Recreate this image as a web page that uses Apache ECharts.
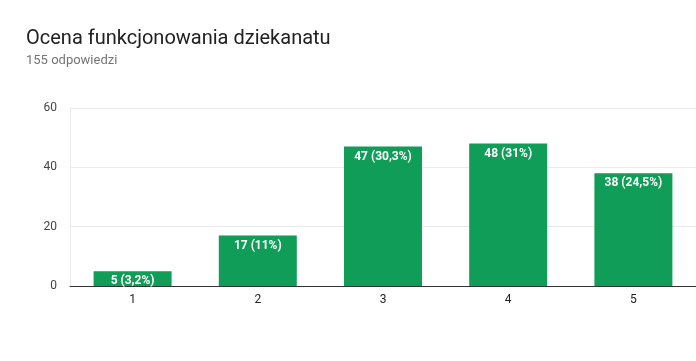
<!DOCTYPE html>
<html>
<head>
<meta charset="utf-8">
<script src="https://cdn.jsdelivr.net/npm/echarts@6/dist/echarts.min.js"></script>
<style>html,body{margin:0;padding:0;background:#fff}#c{width:696px;height:361px}</style>
</head>
<body>
<div id="c"></div>
<script>
const titleText = 'Ocena funkcjonowania dziekanatu';
const subtitleText = '155 odpowiedzi';
const total = 155;
const categories = ['1', '2', '3', '4', '5'];
const values = [5, 17, 47, 48, 38];
const yTicks = [0, 20, 40, 60];

function pct(v) {
  let p = Math.round(v / total * 1000) / 10;
  let s = (p % 1 === 0) ? String(p) : p.toFixed(1);
  return s.replace('.', ',') + '%';
}

const chart = echarts.init(document.getElementById('c'));
chart.setOption({
  animation: false,
  title: {
    text: titleText,
    subtext: subtitleText,
    left: 21,
    top: 24,
    itemGap: 5,
    textStyle: { fontFamily: 'Roboto', fontSize: 20, fontWeight: 'normal', color: '#212121' },
    subtextStyle: { fontFamily: 'Roboto', fontSize: 13, color: '#757575' }
  },
  grid: { left: 70, right: 0, top: 108, bottom: 75, containLabel: false },
  xAxis: {
    type: 'category',
    data: categories,
    axisLine: { lineStyle: { color: '#333333', width: 1 } },
    axisTick: { show: false },
    axisLabel: { fontFamily: 'Roboto', fontSize: 12, color: '#222222', margin: 8 }
  },
  yAxis: {
    type: 'value',
    min: yTicks[0],
    max: yTicks[yTicks.length - 1],
    interval: 20,
    axisLine: { show: true, lineStyle: { color: '#ebebeb' } },
    axisTick: { show: false },
    splitLine: { lineStyle: { color: '#ebebeb' } },
    axisLabel: { fontFamily: 'Roboto', fontSize: 12, color: '#444444', margin: 13 }
  },
  series: [{
    type: 'bar',
    data: values,
    barWidth: 78,
    itemStyle: { color: '#0f9d58' },
    label: {
      show: true,
      position: 'insideTop',
      distance: 4,
      color: '#ffffff',
      fontFamily: 'Roboto',
      fontWeight: 'bold',
      fontSize: 12,
      formatter: p => p.value + ' (' + pct(p.value) + ')'
    }
  }]
});
</script>
</body>
</html>
